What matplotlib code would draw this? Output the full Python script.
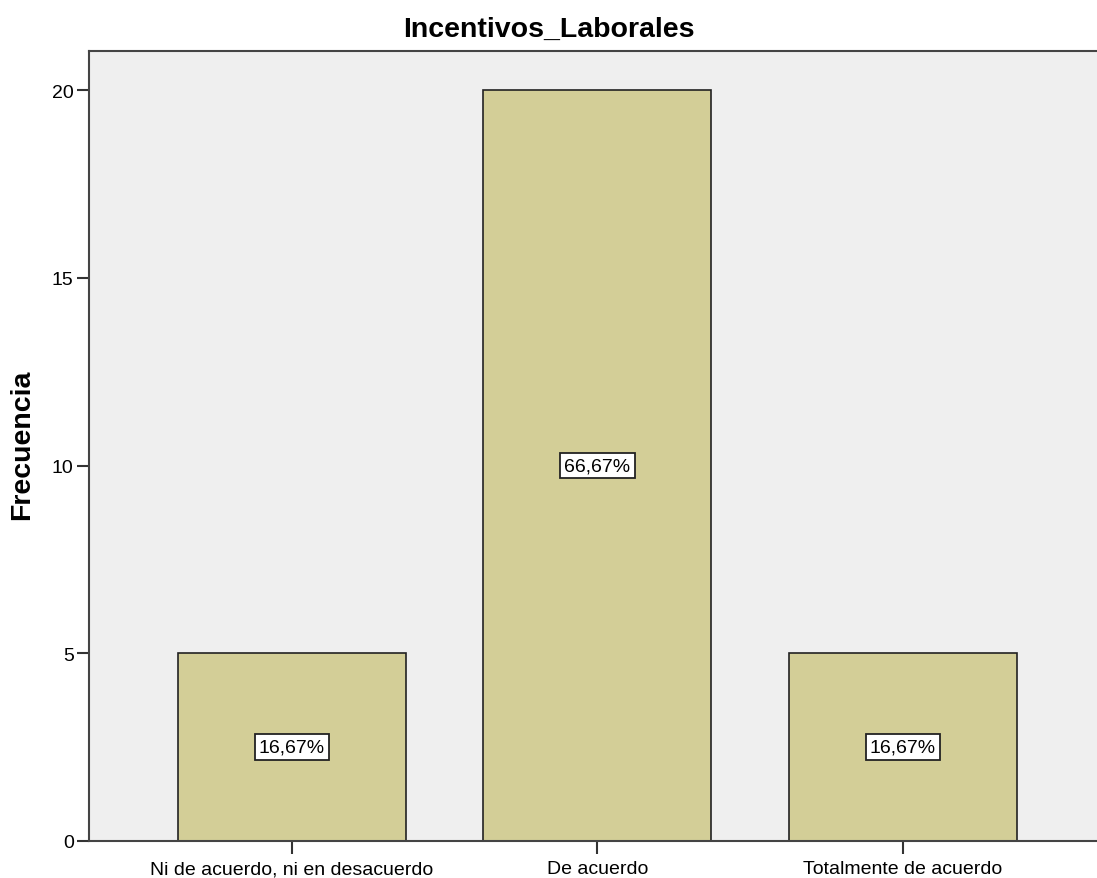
import matplotlib
matplotlib.use("Agg")
import matplotlib.pyplot as plt

categorias = ["Ni de acuerdo, ni en desacuerdo", "De acuerdo", "Totalmente de acuerdo"]
frecuencias = [5, 20, 5]
porcentajes = ["16,67%", "66,67%", "16,67%"]

plt.rcParams['font.family'] = ['Liberation Sans', 'DejaVu Sans']

fig = plt.figure(figsize=(10.97, 8.79), dpi=100)
ax = fig.add_axes([0.0811, 0.0421, 0.93, 0.8987])
ax.set_facecolor('#efefef')

x = list(range(len(categorias)))
ax.bar(x, frecuencias, width=0.746, color='#d3ce97', edgecolor='#222222', linewidth=1.2)

# etiqueta de porcentaje en el centro de cada barra
for xi, f, p in zip(x, frecuencias, porcentajes):
    ax.text(xi, f / 2, p, ha='center', va='center', fontsize=14,
            bbox=dict(boxstyle='square,pad=0.22', facecolor='white', edgecolor='#222222', linewidth=1.3))

ax.set_xlim(-0.664, 2.675)
ax.set_ylim(0, 21.04)
ax.set_xticks(x)
ax.set_xticklabels(categorias, fontsize=14)
ax.set_yticks([0, 5, 10, 15, 20])
ax.tick_params(axis='both', direction='out', length=9, width=1.5, color='#333333', labelsize=14)
ax.tick_params(axis='x', pad=5)
ax.tick_params(axis='y', pad=2)

for side in ['left', 'bottom', 'top']:
    ax.spines[side].set_color('#444444')
    ax.spines[side].set_linewidth(1.5)
ax.spines['right'].set_visible(False)

ax.set_ylabel("Frecuencia", fontsize=20.5, fontweight='bold', va='center')
ax.yaxis.set_label_coords(22 / 1097, 1 - 445 / 879, transform=fig.transFigure)
fig.text(0.5, 1 - 37 / 879, "Incentivos_Laborales", fontsize=20.5, fontweight='bold',
         ha='center', va='baseline')

fig.savefig("out.png", dpi=100)
